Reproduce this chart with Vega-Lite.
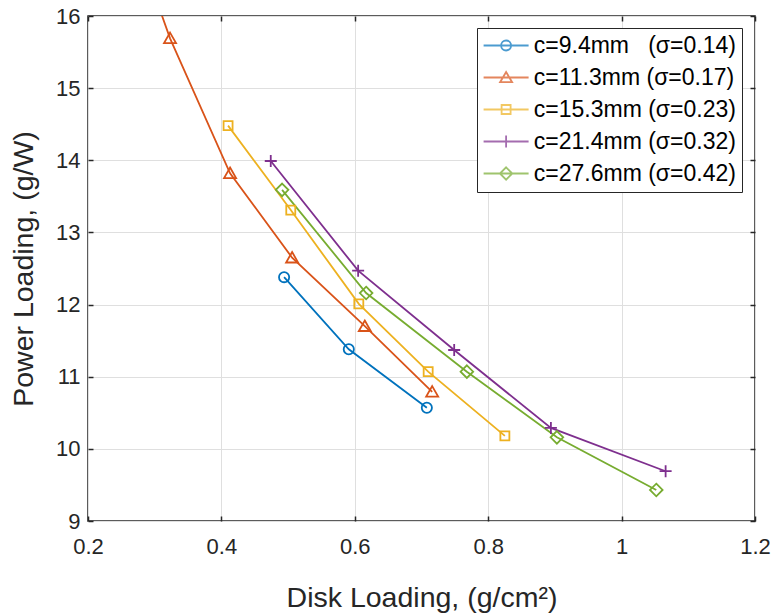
{
  "$schema": "https://vega.github.io/schema/vega-lite/v6.json",
  "width": 667,
  "height": 505,
  "autosize": {"type": "none"},
  "padding": {"left": 88, "top": 16, "right": 21, "bottom": 95},
  "background": "white",
  "config": {
    "view": {"stroke": "#262626", "strokeWidth": 1.5},
    "font": "Liberation Sans",
    "axis": {
      "labelFont": "Liberation Sans",
      "titleFont": "Liberation Sans",
      "labelColor": "#262626",
      "titleColor": "#262626",
      "tickColor": "#262626",
      "labelFontSize": 22,
      "titleFontSize": 28.5,
      "titleFontWeight": "normal",
      "domain": false,
      "gridColor": "#dfdfdf",
      "gridWidth": 1,
      "tickSize": -5,
      "tickWidth": 1.5
    },
    "legend": {
      "orient": "none",
      "legendX": 389,
      "legendY": 12,
      "fillColor": "white",
      "strokeColor": "#262626",
      "padding": 6,
      "rowPadding": 8,
      "labelFont": "Liberation Sans",
      "labelFontSize": 23,
      "labelColor": "#000000",
      "labelOffset": 16.2,
      "symbolOffset": 11.6,
      "symbolStrokeWidth": 1.8,
      "symbolSize": 400,
      "labelLimit": 400
    }
  },
  "data": {
    "values": [
      {"s": "c=9.4mm\u00a0\u00a0\u00a0(σ=0.14)", "x": 0.494, "y": 12.38},
      {"s": "c=9.4mm\u00a0\u00a0\u00a0(σ=0.14)", "x": 0.591, "y": 11.38},
      {"s": "c=9.4mm\u00a0\u00a0\u00a0(σ=0.14)", "x": 0.708, "y": 10.57},
      {"s": "c=11.3mm\u00a0(σ=0.17)", "x": 0.265, "y": 17.2},
      {"s": "c=11.3mm\u00a0(σ=0.17)", "x": 0.323, "y": 15.69},
      {"s": "c=11.3mm\u00a0(σ=0.17)", "x": 0.413, "y": 13.82},
      {"s": "c=11.3mm\u00a0(σ=0.17)", "x": 0.506, "y": 12.65},
      {"s": "c=11.3mm\u00a0(σ=0.17)", "x": 0.615, "y": 11.7},
      {"s": "c=11.3mm\u00a0(σ=0.17)", "x": 0.716, "y": 10.79},
      {"s": "c=15.3mm\u00a0(σ=0.23)", "x": 0.41, "y": 14.48},
      {"s": "c=15.3mm\u00a0(σ=0.23)", "x": 0.504, "y": 13.31},
      {"s": "c=15.3mm\u00a0(σ=0.23)", "x": 0.606, "y": 12.01},
      {"s": "c=15.3mm\u00a0(σ=0.23)", "x": 0.71, "y": 11.07},
      {"s": "c=15.3mm\u00a0(σ=0.23)", "x": 0.825, "y": 10.18},
      {"s": "c=21.4mm\u00a0(σ=0.32)", "x": 0.474, "y": 13.99},
      {"s": "c=21.4mm\u00a0(σ=0.32)", "x": 0.605, "y": 12.47},
      {"s": "c=21.4mm\u00a0(σ=0.32)", "x": 0.749, "y": 11.37},
      {"s": "c=21.4mm\u00a0(σ=0.32)", "x": 0.894, "y": 10.29},
      {"s": "c=21.4mm\u00a0(σ=0.32)", "x": 1.066, "y": 9.69},
      {"s": "c=27.6mm\u00a0(σ=0.42)", "x": 0.491, "y": 13.59},
      {"s": "c=27.6mm\u00a0(σ=0.42)", "x": 0.617, "y": 12.16},
      {"s": "c=27.6mm\u00a0(σ=0.42)", "x": 0.768, "y": 11.07},
      {"s": "c=27.6mm\u00a0(σ=0.42)", "x": 0.903, "y": 10.16},
      {"s": "c=27.6mm\u00a0(σ=0.42)", "x": 1.052, "y": 9.43}
    ]
  },
  "layer": [
    {
      "mark": {"type": "line", "strokeWidth": 1.8, "clip": true},
      "encoding": {
        "x": {
          "field": "x", "type": "quantitative",
          "scale": {"domain": [0.2, 1.2], "nice": false, "zero": false},
          "axis": {
            "values": [0.2, 0.4, 0.6, 0.8, 1, 1.2],
            "format": "~g",
            "title": "Disk Loading, (g/cm²)",
            "titleX": 333.5, "titleY": 85, "titleBaseline": "alphabetic",
            "labelPadding": 20,
            "labelFlush": false
          }
        },
        "y": {
          "field": "y", "type": "quantitative",
          "scale": {"domain": [9, 16], "nice": false, "zero": false},
          "axis": {
            "values": [9, 10, 11, 12, 13, 14, 15, 16],
            "title": "Power Loading, (g/W)",
            "titleX": -56, "titleY": 252.5, "titleAngle": -90,
            "titleBaseline": "alphabetic", "titleAlign": "center",
            "labelPadding": 13,
            "labelFlush": false
          }
        },
        "color": {
          "field": "s", "type": "nominal", "legend": null,
          "scale": {
            "domain": ["c=9.4mm\u00a0\u00a0\u00a0(σ=0.14)", "c=11.3mm\u00a0(σ=0.17)", "c=15.3mm\u00a0(σ=0.23)", "c=21.4mm\u00a0(σ=0.32)", "c=27.6mm\u00a0(σ=0.42)"],
            "range": ["#0072BD", "#D95319", "#EDB120", "#7E2F8E", "#77AC30"]
          }
        }
      }
    },
    {
      "mark": {"type": "point", "filled": false, "strokeWidth": 1.8, "size": 144, "clip": true, "opacity": 1},
      "encoding": {
        "x": {
          "field": "x", "type": "quantitative",
          "axis": {"orient": "top", "labels": false, "title": null, "grid": false, "values": [0.2, 0.4, 0.6, 0.8, 1, 1.2]}
        },
        "y": {
          "field": "y", "type": "quantitative",
          "axis": {"orient": "right", "labels": false, "title": null, "grid": false, "values": [9, 10, 11, 12, 13, 14, 15, 16]}
        },
        "color": {
          "field": "s", "type": "nominal", "legend": null,
          "scale": {
            "domain": ["c=9.4mm\u00a0\u00a0\u00a0(σ=0.14)", "c=11.3mm\u00a0(σ=0.17)", "c=15.3mm\u00a0(σ=0.23)", "c=21.4mm\u00a0(σ=0.32)", "c=27.6mm\u00a0(σ=0.42)"],
            "range": ["#0072BD", "#D95319", "#EDB120", "#7E2F8E", "#77AC30"]
          }
        },
        "shape": {
          "field": "s", "type": "nominal", "legend": null,
          "scale": {
            "domain": ["c=9.4mm\u00a0\u00a0\u00a0(σ=0.14)", "c=11.3mm\u00a0(σ=0.17)", "c=15.3mm\u00a0(σ=0.23)", "c=21.4mm\u00a0(σ=0.32)", "c=27.6mm\u00a0(σ=0.42)"],
            "range": [
              "M0.85,0A0.85,0.85 0 1,1 -0.85,0A0.85,0.85 0 1,1 0.85,0Z",
              "M0,-0.95L1,0.8L-1,0.8Z",
              "M-0.75,-0.75H0.75V0.75H-0.75Z",
              "M-1,0H1M0,-1V1",
              "M0,-1.05L1.05,0L0,1.05L-1.05,0Z"
            ]
          }
        }
      }
    },
    {
      "transform": [{"filter": "false"}],
      "mark": {"type": "point", "filled": false, "strokeWidth": 1.8, "size": 400},
      "encoding": {
        "color": {
          "field": "s", "type": "nominal",
          "scale": {
            "domain": ["c=9.4mm\u00a0\u00a0\u00a0(σ=0.14)", "c=11.3mm\u00a0(σ=0.17)", "c=15.3mm\u00a0(σ=0.23)", "c=21.4mm\u00a0(σ=0.32)", "c=27.6mm\u00a0(σ=0.42)"],
            "range": ["#0072BD", "#D95319", "#EDB120", "#7E2F8E", "#77AC30"]
          },
          "legend": {"title": null, "orient": "none", "legendX": 389, "legendY": 12}
        },
        "shape": {
          "field": "s", "type": "nominal",
          "scale": {
            "domain": ["c=9.4mm\u00a0\u00a0\u00a0(σ=0.14)", "c=11.3mm\u00a0(σ=0.17)", "c=15.3mm\u00a0(σ=0.23)", "c=21.4mm\u00a0(σ=0.32)", "c=27.6mm\u00a0(σ=0.42)"],
            "range": [
              "M-2.25,0H2.25M0.5,0A0.5,0.5 0 1,1 -0.5,0A0.5,0.5 0 1,1 0.5,0",
              "M-2.25,0H2.25M0,-0.55L0.6,0.47L-0.6,0.47Z",
              "M-2.25,0H2.25M-0.45,-0.45H0.45V0.45H-0.45Z",
              "M-2.25,0H2.25M0,-0.6V0.6",
              "M-2.25,0H2.25M0,-0.62L0.62,0L0,0.62L-0.62,0Z"
            ]
          },
          "legend": {"title": null, "orient": "none", "legendX": 389, "legendY": 12}
        }
      }
    }
  ],
  "resolve": {
    "scale": {"shape": "independent", "color": "independent"},
    "axis": {"x": "independent", "y": "independent"}
  }
}
